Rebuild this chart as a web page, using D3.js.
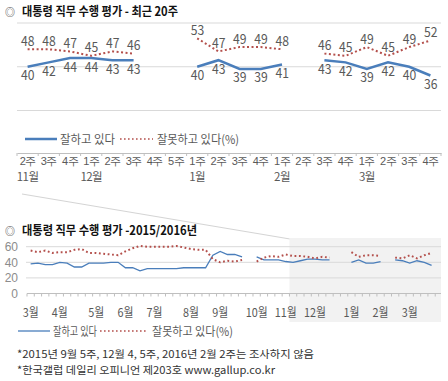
<!DOCTYPE html>
<html><head><meta charset="utf-8">
<script src="https://cdn.jsdelivr.net/npm/d3@7"></script>
<style>
body{margin:0;background:#fff;}
svg{display:block;font-family:"Noto Sans CJK KR","Noto Sans",sans-serif;}
</style></head><body>
<svg id="c" width="448" height="381"></svg>
<script>
// ---- Top chart: recent 20 weeks ----
const recentWeeks = ["2주","3주","4주","1주","2주","3주","4주","5주","1주","2주","3주","4주","1주","2주","3주","4주","1주","2주","3주","4주"];
const recentMonths = ["11월","","","12월","","","","","1월","","","","2월","","","","3월","","",""];
const recentGood = [40,42,44,44,43,43,null,null,40,43,39,39,41,null,43,42,39,42,40,36];
const recentBad  = [48,48,47,45,47,46,null,null,53,47,49,49,48,null,46,45,49,45,49,52];
const recentGrid = [20,40,60];

// ---- Bottom chart: 2015/2016 weekly ----
const yearMonthLabels = ["3월","4월","5월","6월","7월","8월","9월","10월","11월","12월","1월","2월","3월"];
const weeksPerMonth   = [4,5,4,4,5,4,5,4,4,5,4,4,4];
const yearGood = [38,39,37,37,40,39,34,34,39,39,39,40,40,33,33,29,32,32,32,32,32,33,33,33,33,49,54,50,50,47,null,47,43,43,43,41,
                  40,42,44,44,43,43,null,null,40,43,39,39,41,null,43,42,39,42,40,36];
const yearBad  = [55,53,55,52,53,53,56,57,52,52,51,50,49,54,58,61,60,60,60,60,61,59,57,56,56,44,40,42,41,43,null,41,46,48,47,50,
                  48,48,47,45,47,46,null,null,53,47,49,49,48,null,46,45,49,45,49,52];
const yearTicks = [0,20,40,60];

const titleTop = "대통령 직무 수행 평가 - 최근 20주";
const titleBottom = "대통령 직무 수행 평가 -2015/2016년";
const legendGood = "잘하고 있다";
const legendBad = "잘못하고 있다(%)";
const notes = ["*2015년 9월 5주, 12월 4, 5주, 2016년 2월 2주는 조사하지 않음",
               "*한국갤럽 데일리 오피니언 제203호 www.gallup.co.kr"];

const BLUE = "#4a7ebb", RED = "#b4504c", GRID = "#d9d9d9", TXT = "#595959";
const svg = d3.select("#c");
const fit = (sel, w) => sel.attr("textLength", w).attr("lengthAdjust", "spacingAndGlyphs");

// connector line (zoom indicator)
svg.append("line").attr("x1",22).attr("y1",194).attr("x2",290).attr("y2",239)
  .attr("stroke","#d4d4d4").attr("stroke-width",1);

function title(y, text, w){
  svg.append("text").attr("x",5).attr("y",y).attr("font-size",10).attr("fill","#444").text("◎");
  svg.append("text").attr("x",22).attr("y",y).attr("font-size",12.5).attr("font-weight","bold").attr("fill","#111")
    .text(text).call(fit, w);
}

// ===== TOP =====
title(16, titleTop, 156);

const xT = d3.scaleBand().domain(d3.range(recentWeeks.length)).range([17,441]).paddingInner(0);
const yT = d3.scaleLinear().domain([20,60]).range([110.5,23]);
const xc = i => xT(i) + xT.bandwidth()/2;

svg.append("g").selectAll("line").data(recentGrid).join("line")
  .attr("x1",17).attr("x2",441).attr("y1",d=>yT(d)).attr("y2",d=>yT(d))
  .attr("stroke",GRID).attr("stroke-width",1);

const lineT = d3.line().defined(d=>d!=null).x((d,i)=>xc(i)).y(d=>yT(d));
svg.append("path").attr("d",lineT(recentGood)).attr("fill","none").attr("stroke",BLUE).attr("stroke-width",2.5);
svg.append("path").attr("d",lineT(recentBad)).attr("fill","none").attr("stroke",RED).attr("stroke-width",2).attr("stroke-dasharray","2,2.5");

svg.append("g").selectAll("text").data(recentBad.map((v,i)=>({v,i})).filter(d=>d.v!=null)).join("text")
  .attr("x",d=>xc(d.i)-6.5).attr("y",d=>yT(d.v)-3.5)
  .attr("font-size",13.5).attr("fill",TXT).text(d=>d.v).call(fit,13.5);
svg.append("g").selectAll("text").data(recentGood.map((v,i)=>({v,i})).filter(d=>d.v!=null)).join("text")
  .attr("x",d=>xc(d.i)-6.5).attr("y",d=>yT(d.v)+13.5)
  .attr("font-size",13.5).attr("fill",TXT).text(d=>d.v).call(fit,13.5);

// legend
function legend(y, x0, wLine, wText1, gap, wDot, wText2, thick){
  svg.append("line").attr("x1",x0).attr("x2",x0+wLine).attr("y1",y).attr("y2",y).attr("stroke",BLUE).attr("stroke-width",thick);
  svg.append("text").attr("x",x0+wLine+3).attr("y",y+4.5).attr("font-size",12).attr("fill",TXT).text(legendGood).call(fit,wText1);
  const x2 = x0+wLine+3+wText1+gap;
  svg.append("line").attr("x1",x2).attr("x2",x2+wDot).attr("y1",y).attr("y2",y).attr("stroke",RED).attr("stroke-width",1.6).attr("stroke-dasharray","1.6,2.4");
  svg.append("text").attr("x",x2+wDot+4).attr("y",y+4.5).attr("font-size",12).attr("fill",TXT).text(legendBad).call(fit,wText2);
}
legend(139, 25, 32, 55, 5, 33, 82, 2.5);

// top axis
const axT = svg.append("g").attr("transform","translate(0,153)");
axT.call(d3.axisBottom(xT).tickSize(0).tickPadding(4).tickFormat(i=>recentWeeks[i]));
axT.select(".domain").attr("stroke","#bfbfbf");
axT.selectAll(".tick text").attr("font-size",11).attr("letter-spacing","-0.6").attr("fill",TXT).attr("font-family",null);
axT.append("g").selectAll("line").data(d3.range(recentWeeks.length+1)).join("line")
  .attr("x1",i=>17+i*xT.step()).attr("x2",i=>17+i*xT.step()).attr("y1",0).attr("y2",3).attr("stroke","#bfbfbf");
svg.append("g").selectAll("text").data(recentMonths.map((m,i)=>({m,i})).filter(d=>d.m)).join("text")
  .attr("x",d=>xc(d.i)).attr("y",181).attr("text-anchor","middle").attr("font-size",11.5).attr("letter-spacing","-0.6").attr("fill",TXT)
  .text(d=>d.m);

// ===== BOTTOM =====
const nWeeks = yearGood.length;
const xB = d3.scaleBand().domain(d3.range(nWeeks)).range([27,27+nWeeks*7.29]).paddingInner(0);
const xbc = i => xB(i) + xB.bandwidth()/2;
const yB = d3.scaleLinear().domain([0,60]).range([293.5,246.7]);

// shaded zoom region (last 20 weeks)
svg.append("rect").attr("x",xB(nWeeks-20)).attr("y",238).attr("width",441-xB(nWeeks-20)).attr("height",84).attr("fill","#f2f2f2");

title(235, titleBottom, 175);

svg.append("g").selectAll("line").data(yearTicks.filter(d=>d>0)).join("line")
  .attr("x1",26).attr("x2",441).attr("y1",d=>yB(d)).attr("y2",d=>yB(d)).attr("stroke",GRID);
const ayB = svg.append("g").attr("transform","translate(19,0)").call(d3.axisLeft(yB).tickValues(yearTicks).tickSize(0).tickPadding(1));
ayB.select(".domain").remove();
ayB.selectAll("text").attr("font-size",12).attr("fill","#8c8c8c").attr("font-family",null);

const lineB = d3.line().defined(d=>d!=null).x((d,i)=>xbc(i)).y(d=>yB(d));
svg.append("path").attr("d",lineB(yearGood)).attr("fill","none").attr("stroke",BLUE).attr("stroke-width",1.3);
svg.append("path").attr("d",lineB(yearBad)).attr("fill","none").attr("stroke",RED).attr("stroke-width",2).attr("stroke-dasharray","1.8,2.6");

// bottom axis
const axB = svg.append("g").attr("transform","translate(0,293.5)");
axB.append("line").attr("x1",27).attr("x2",441).attr("stroke","#bfbfbf");
axB.append("g").selectAll("line").data(d3.range(nWeeks+1)).join("line")
  .attr("x1",i=>27+i*xB.step()).attr("x2",i=>27+i*xB.step()).attr("y1",0).attr("y2",3).attr("stroke","#bfbfbf");
const monthStart = weeksPerMonth.map((w,k)=>d3.sum(weeksPerMonth.slice(0,k)));
svg.append("g").selectAll("text").data(yearMonthLabels.map((m,k)=>({m,i:monthStart[k]}))).join("text")
  .attr("x",d=>xbc(d.i)).attr("y",317).attr("text-anchor","middle").attr("font-size",12).attr("fill",TXT)
  .text(d=>d.m).each(function(d){ d3.select(this).call(fit, d.m.length>2?22:16); });

// bottom legend
function legend2(y){
  svg.append("line").attr("x1",18).attr("x2",50).attr("y1",y).attr("y2",y).attr("stroke",BLUE).attr("stroke-width",1.3);
  svg.append("text").attr("x",53).attr("y",y+4.5).attr("font-size",12).attr("fill",TXT).text(legendGood).call(fit,44);
  svg.append("line").attr("x1",100).attr("x2",148).attr("y1",y).attr("y2",y).attr("stroke",RED).attr("stroke-width",1.6).attr("stroke-dasharray","1.6,2.4");
  svg.append("text").attr("x",152).attr("y",y+4.5).attr("font-size",12).attr("fill",TXT).text(legendBad).call(fit,81);
}
legend2(331);

svg.append("g").selectAll("text").data(notes).join("text")
  .attr("x",17).attr("y",(d,i)=>358+i*15.5).attr("font-size",10.5).attr("fill","#333")
  .text(d=>d).each(function(d,i){ d3.select(this).call(fit, i===0?297:258); });
</script></body></html>
